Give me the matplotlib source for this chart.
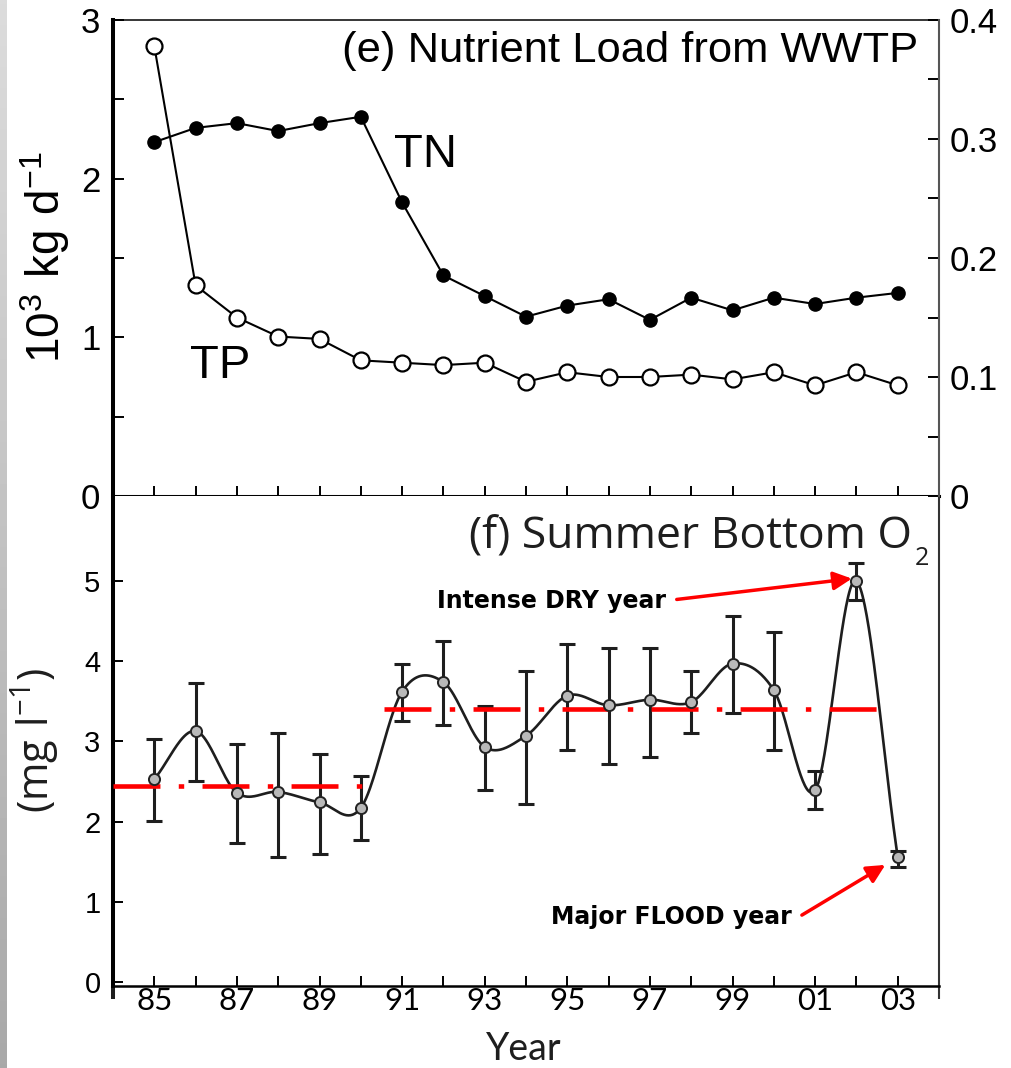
import numpy as np
import matplotlib
matplotlib.use("Agg")
import matplotlib.pyplot as plt

plt.rcParams['lines.scale_dashes'] = False
plt.rcParams['mathtext.fontset'] = 'custom'
plt.rcParams['mathtext.rm'] = 'Liberation Sans'
plt.rcParams['mathtext.sf'] = 'Open Sans'

# ---------------- data ----------------
years = np.arange(85, 104)                      # 1985 .. 2003
tick_labels = ['85', '87', '89', '91', '93', '95', '97', '99', '01', '03']
tick_label_years = np.arange(85, 104, 2)

# (e) nutrient load from WWTP
tn = [2.23, 2.32, 2.35, 2.30, 2.35, 2.39, 1.85, 1.39, 1.26, 1.13, 1.20, 1.24,
      1.11, 1.25, 1.17, 1.25, 1.21, 1.25, 1.28]           # 10^3 kg/d (left)
tp = [0.378, 0.177, 0.150, 0.134, 0.132, 0.114, 0.112, 0.110, 0.112, 0.096,
      0.104, 0.100, 0.100, 0.102, 0.098, 0.104, 0.093, 0.104, 0.093]  # right axis

# (f) summer bottom O2
o2 = [2.53, 3.13, 2.36, 2.37, 2.24, 2.17, 3.62, 3.74, 2.93, 3.07, 3.57, 3.45,
      3.52, 3.49, 3.97, 3.64, 2.39, 5.00, 1.56]
o2_hi = [3.03, 3.73, 2.97, 3.11, 2.84, 2.57, 3.97, 4.25, 3.44, 3.88, 4.22, 4.17,
         4.17, 3.88, 4.56, 4.37, 2.63, 5.22, 1.63]
o2_lo = [2.01, 2.51, 1.73, 1.56, 1.60, 1.77, 3.25, 3.21, 2.40, 2.22, 2.89, 2.72,
         2.81, 3.11, 3.36, 2.89, 2.16, 4.76, 1.43]
period_means = [2.44, 3.41]
period_spans = [(84.0, 90.1), (90.55, 102.62)]

# ---------------- helpers ----------------
def catmull_rom(x, y, n=40):
    x = np.asarray(x, float); y = np.asarray(y, float)
    m = np.empty_like(y)
    m[1:-1] = (y[2:] - y[:-2]) / (x[2:] - x[:-2])
    m[0] = (y[1] - y[0]) / (x[1] - x[0])
    m[-1] = (y[-1] - y[-2]) / (x[-1] - x[-2])
    xs, ys = [], []
    for i in range(len(x) - 1):
        h = x[i + 1] - x[i]
        t = np.linspace(0, 1, n, endpoint=False)
        h00 = 2*t**3 - 3*t**2 + 1
        h10 = t**3 - 2*t**2 + t
        h01 = -2*t**3 + 3*t**2
        h11 = t**3 - t**2
        xs.append(x[i] + t*h)
        ys.append(h00*y[i] + h10*h*m[i] + h01*y[i+1] + h11*h*m[i+1])
    xs.append([x[-1]]); ys.append([y[-1]])
    return np.concatenate(xs), np.concatenate(ys)

W, H = 1011, 1068
fig = plt.figure(figsize=(W/100, H/100), dpi=100)
fig.patch.set_facecolor('white')

# gray border strip on the left
gax = fig.add_axes([0, 0, 7/W, 1])
grad = np.linspace(0.86, 0.66, 256).reshape(-1, 1)
gax.imshow(grad, aspect='auto', cmap='gray', vmin=0, vmax=1, extent=[0, 1, 0, 1])
gax.set_axis_off()

L, R = 113, 939
T1, B1, B2 = 20, 496, 986
left = L/W; width = (R-L)/W
ax1 = fig.add_axes([left, 1-B1/H, width, (B1-T1)/H])
ax2 = fig.add_axes([left, 1-B2/H, width, (B2-B1)/H])

helv = 'Liberation Sans'
myr = ['Open Sans', 'Noto Sans', 'DejaVu Sans']
lato = ['Lato', 'Open Sans', 'DejaVu Sans']

# ---------------- top panel ----------------
ax1.set_xlim(84, 104)
ax1.set_ylim(0, 3)
ax1r = ax1.twinx()
ax1r.set_ylim(0, 0.4)

ax1.plot(years, tn, '-o', color='black', lw=1.5, ms=9.5, mfc='black', mec='black', zorder=3)
ax1r.plot(years, tp, '-o', color='black', lw=1.5, ms=11.5, mfc='white', mec='black',
          mew=1.6, zorder=3)

ax1.set_xticks(years)
ax1.tick_params(axis='x', direction='in', length=7.5, width=1.4, labelbottom=False,
                top=False)
ax1.set_yticks([0, 1, 2, 3])
ax1.set_yticks([0.5, 1.5, 2.5], minor=True)
ax1.tick_params(axis='y', which='both', direction='in', length=8, width=1.4, pad=9,
                labelsize=25)
for lab in ax1.get_yticklabels():
    lab.set_fontfamily(helv)
ax1r.set_yticks([0, 0.1, 0.2, 0.3, 0.4])
ax1r.set_yticklabels(['0', '0.1', '0.2', '0.3', '0.4'])
ax1r.set_yticks(np.arange(0.05, 0.4, 0.1), minor=True)
ax1r.tick_params(axis='y', which='both', direction='in', length=8, width=1.4, pad=8,
                 labelsize=25)
for lab in ax1r.get_yticklabels():
    lab.set_fontfamily(helv)

ax1.spines['left'].set_linewidth(2.9)
ax1.spines['top'].set_linewidth(1.1)
ax1.spines['bottom'].set_linewidth(2.2)
ax1.spines['right'].set_visible(False)
for s in ['left', 'top', 'bottom']:
    ax1r.spines[s].set_visible(False)
ax1r.spines['right'].set_linewidth(1.5)
ax1r.spines['right'].set_color('#555555')

ax1.text(0.9746, 0.912, '(e) Nutrient Load from WWTP', transform=ax1.transAxes,
         ha='right', va='baseline', fontsize=31.3, family=helv)
ax1.text(90.81, 2.075, 'TN', ha='left', va='baseline', fontsize=34, family=helv)
ax1.text(85.87, 0.742, 'TP', ha='left', va='baseline', fontsize=34, family=helv)

fig.text(45/W, 1-257/H, r'$\mathrm{10^{3}\ kg\ d^{-1}}$', rotation=90, ha='center',
         va='center', fontsize=33)

# ---------------- bottom panel ----------------
ax2.set_xlim(84, 104)
ax2.set_ylim(-0.05, 6.06)

xs, ys = catmull_rom(years, o2)
ax2.plot(xs, ys, color='#1e1e1e', lw=1.9, zorder=2)
o2a = np.array(o2)
yerr = [o2a - np.array(o2_lo), np.array(o2_hi) - o2a]
ax2.errorbar(years, o2, yerr=yerr, fmt='none', ecolor='#1e1e1e', elinewidth=2.2,
             capsize=5.8, capthick=2.2, zorder=3)
for (x0, x1), m in zip(period_spans, period_means):
    ax2.plot([x0, x1], [m, m], color='red', lw=3.3,
             linestyle=(0, (33.8, 13.2, 3.9, 13.2)), solid_capstyle='butt',
             dash_capstyle='butt', zorder=4, clip_on=False)
ax2.plot(years, o2, 'o', ms=8, mfc='#b9b9b9', mec='#222222', mew=1.4, zorder=5)

ax2.set_xticks(tick_label_years)
ax2.set_xticklabels(tick_labels)
ax2.set_xticks(np.arange(86, 104, 2), minor=True)
ax2.tick_params(axis='x', which='both', direction='in', length=7.5, width=1.4, pad=1,
                labelsize=22.5, top=False)
for lab in ax2.get_xticklabels():
    lab.set_fontfamily(lato)
ax2.set_yticks([0, 1, 2, 3, 4, 5])
ax2.tick_params(axis='y', direction='in', length=7.5, width=1.4, pad=9, labelsize=21,
                right=False)
for lab in ax2.get_yticklabels():
    lab.set_fontfamily(helv)

ax2.spines['top'].set_visible(False)
ax2.spines['left'].set_linewidth(2.9)
ax2.spines['bottom'].set_linewidth(1.8)
ax2.spines['right'].set_linewidth(1.5)
ax2.spines['right'].set_color('#333333')
ext = 13/(B2-B1)
ax2.plot([0, 0], [-ext, 0], transform=ax2.transAxes, color='#1e1e1e', lw=2.9,
         clip_on=False, solid_capstyle='butt')
ax2.plot([1, 1], [-ext, 0], transform=ax2.transAxes, color='#333333', lw=1.5,
         clip_on=False, solid_capstyle='butt')

ax2.text((912-L)/(R-L), (B2-549)/(B2-B1), '(f) Summer Bottom O', transform=ax2.transAxes,
         ha='right', va='baseline', fontsize=32, family=myr, color='#1e1e1e')
ax2.text((915-L)/(R-L), (B2-565)/(B2-B1), '2', transform=ax2.transAxes,
         ha='left', va='baseline', fontsize=18, family=myr, color='#1e1e1e')

ann_font = dict(fontsize=17, fontweight='bold', family='DejaVu Sans', color='black')
ax2.text(91.85, 4.75, 'Intense DRY year', ha='left', va='center', **ann_font)
ax2.text(100.44, 0.81, 'Major FLOOD year', ha='right', va='center', **ann_font)
arrow = dict(arrowstyle='-|>,head_length=1.1,head_width=0.55', color='red', lw=2.5,
             shrinkA=0, shrinkB=0, mutation_scale=10)
ax2.annotate('', xy=(101.89, 5.03), xytext=(97.65, 4.77), arrowprops=arrow, zorder=6)
ax2.annotate('', xy=(102.70, 1.46), xytext=(100.68, 0.834), arrowprops=arrow, zorder=6)

fig.text(35/W, 1-741/H, r'$\mathsf{(mg\ l^{-1})}$', rotation=90, ha='center',
         va='center', fontsize=30, color='#1e1e1e')
fig.text(524/W, 1.0/H, 'Year', ha='center', va='bottom', fontsize=27, family=lato,
         color='#1e1e1e')

fig.savefig('out.png', dpi=100)
